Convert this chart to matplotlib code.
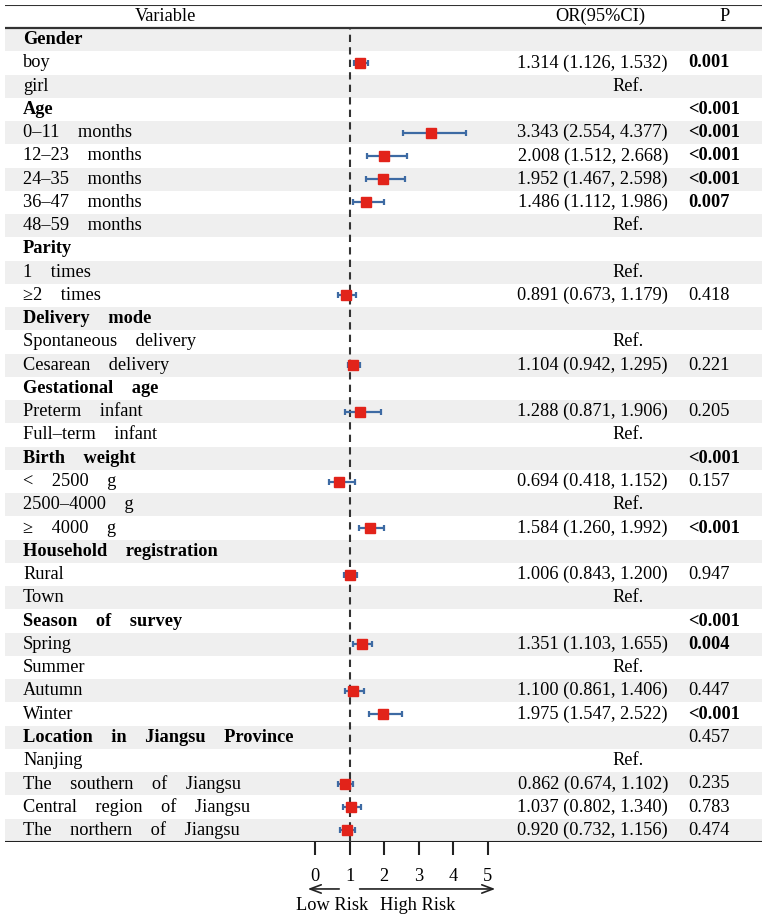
import matplotlib
matplotlib.use("Agg")
import matplotlib.pyplot as plt
import numpy as np

plt.rcParams['font.family'] = ['Liberation Serif', 'DejaVu Serif']

labels = ["Gender", "boy", "girl", "Age", "0–11 months", "12–23 months", "24–35 months",
          "36–47 months", "48–59 months", "Parity", "1 times", "≥2 times", "Delivery mode",
          "Spontaneous delivery", "Cesarean delivery", "Gestational age", "Preterm infant",
          "Full–term infant", "Birth weight", "< 2500 g", "2500–4000 g", "≥ 4000 g",
          "Household registration", "Rural", "Town", "Season of survey", "Spring", "Summer",
          "Autumn", "Winter", "Location in Jiangsu Province", "Nanjing",
          "The southern of Jiangsu", "Central region of Jiangsu", "The northern of Jiangsu"]
is_group = [1, 0, 0, 1, 0, 0, 0, 0, 0, 1, 0, 0, 1, 0, 0, 1, 0, 0, 1, 0, 0, 0, 1, 0, 0, 1, 0, 0,
            0, 0, 1, 0, 0, 0, 0]
or_est = [None, 1.314, "Ref", None, 3.343, 2.008, 1.952, 1.486, "Ref", None, "Ref", 0.891, None,
          "Ref", 1.104, None, 1.288, "Ref", None, 0.694, "Ref", 1.584, None, 1.006, "Ref", None,
          1.351, "Ref", 1.100, 1.975, None, "Ref", 0.862, 1.037, 0.920]
ci_low = [None, 1.126, None, None, 2.554, 1.512, 1.467, 1.112, None, None, None, 0.673, None,
          None, 0.942, None, 0.871, None, None, 0.418, None, 1.260, None, 0.843, None, None,
          1.103, None, 0.861, 1.547, None, None, 0.674, 0.802, 0.732]
ci_high = [None, 1.532, None, None, 4.377, 2.668, 2.598, 1.986, None, None, None, 1.179, None,
           None, 1.295, None, 1.906, None, None, 1.152, None, 1.992, None, 1.200, None, None,
           1.655, None, 1.406, 2.522, None, None, 1.102, 1.340, 1.156]
p_values = ["", "0.001", "", "<0.001", "<0.001", "<0.001", "<0.001", "0.007", "", "", "", "0.418",
            "", "", "0.221", "", "0.205", "", "<0.001", "0.157", "", "<0.001", "", "0.947", "",
            "<0.001", "0.004", "", "0.447", "<0.001", "0.457", "", "0.235", "0.783", "0.474"]
x_ticks = [0, 1, 2, 3, 4, 5]

W, H = 767, 918
fig = plt.figure(figsize=(W / 100, H / 100), dpi=100)
n = len(labels)
row_top, row_bot, head_top = 28, 842, 5
rh = (row_bot - row_top) / n
head_rows = (row_top - head_top) / rh

# table axes (x in pixel-like units)
tab = fig.add_axes([5 / W, (H - row_bot) / H, 757 / W, (row_bot - head_top) / H])
tab.set_xlim(5, 762)
tab.set_ylim(n - 0.5, -0.5 - head_rows)
tab.axis('off')
for i in range(n):
    if i % 2 == 0:
        tab.axhspan(i - 0.5, i + 0.5, color='#efefef', lw=0, zorder=0)
tab.axhline(-0.5 - head_rows, color='#333333', lw=1.5)
tab.axhline(-0.5, color='#333333', lw=1.6)
tab.axhline(n - 0.5, color='#222222', lw=1.5)

fs = 13.2
hy = -0.5 - head_rows / 2
tab.text(165, hy, "Variable", ha='center', va='center', fontsize=fs)
tab.text(600, hy, "OR(95%CI)", ha='center', va='center', fontsize=fs)
tab.text(725, hy, "P", ha='center', va='center', fontsize=fs)

for i in range(n):
    lab = labels[i].replace(" ", "    ")
    tab.text(23, i, lab, ha='left', va='center', fontsize=fs,
             fontweight='bold' if is_group[i] else 'normal')
    if or_est[i] == "Ref":
        tab.text(628, i, "Ref.", ha='center', va='center', fontsize=fs)
    elif or_est[i] is not None:
        s = f"{or_est[i]:.3f} ({ci_low[i]:.3f}, {ci_high[i]:.3f})"
        tab.text(668, i, s, ha='right', va='center', fontsize=fs)
    p = p_values[i]
    if p:
        bold = p.startswith("<") or float(p) < 0.05
        tab.text(688, i, p, ha='left', va='center', fontsize=fs,
                 fontweight='bold' if bold else 'normal')

# forest axes
fx0, fx1 = 315, 488
ax = fig.add_axes([fx0 / W, (H - row_bot) / H, (fx1 - fx0) / W, (row_bot - row_top) / H])
ax.patch.set_alpha(0)
ax.set_xlim(0, 5)
ax.set_ylim(n - 0.5, -0.5)
for s in ['top', 'right', 'left', 'bottom']:
    ax.spines[s].set_visible(False)
ax.set_yticks([])
ax.set_xticks(x_ticks)
ax.set_xticklabels([str(t) for t in x_ticks], fontsize=fs)
ax.tick_params(axis='x', direction='out', length=9.5, width=1.5, color='#222222', pad=9)
ax.axvline(1, color='#333333', lw=1.5, ls=(0, (3.5, 2.5)), zorder=1)

for i in range(n):
    if isinstance(or_est[i], float):
        ax.errorbar(or_est[i], i, xerr=[[or_est[i] - ci_low[i]], [ci_high[i] - or_est[i]]],
                    fmt='none', ecolor='#3d6aa3', elinewidth=1.6, capsize=2, capthick=1.6,
                    zorder=2, clip_on=False)
        ax.plot(or_est[i], i, marker='s', ms=7, color='#e2231a', zorder=3, clip_on=False)

# risk arrows
ya = -0.0577
ax.annotate("", xy=(-0.29, ya), xytext=(0.78, ya), xycoords=('data', 'axes fraction'),
            textcoords=('data', 'axes fraction'),
            arrowprops=dict(arrowstyle='->,head_length=0.8,head_width=0.3', lw=1.2, color='#222222'),
            annotation_clip=False)
ax.annotate("", xy=(5.29, ya), xytext=(1.21, ya), xycoords=('data', 'axes fraction'),
            textcoords=('data', 'axes fraction'),
            arrowprops=dict(arrowstyle='->,head_length=0.8,head_width=0.3', lw=1.2, color='#222222'),
            annotation_clip=False)
ax.text(0.49, -0.0774, "Low Risk", transform=ax.get_xaxis_transform(), ha='center', va='center',
        fontsize=fs)
ax.text(2.98, -0.0774, "High Risk", transform=ax.get_xaxis_transform(), ha='center', va='center',
        fontsize=fs)

fig.savefig("out.png", dpi=100)
